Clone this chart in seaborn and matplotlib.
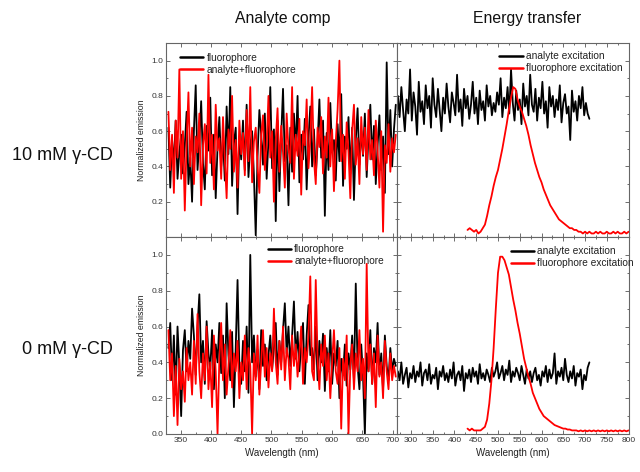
import numpy as np
import pandas as pd
import matplotlib
matplotlib.use("Agg")
import matplotlib.pyplot as plt
import seaborn as sns
from matplotlib.ticker import MultipleLocator

sns.set_theme(style="ticks")
plt.rcParams["font.family"] = ["Liberation Sans", "DejaVu Sans"]

# ---------------- data ----------------
# emission scans (nm)
wl_emission = np.arange(330, 706, 3)
# analyte excitation scans (nm)
wl_analyte_exc = np.arange(270, 711, 4)
# fluorophore excitation scans (nm)
wl_fluor_exc = np.arange(430, 801, 5)

em10_fluorophore = [
    0.62, 0.28, 0.55, 0.41, 0.66, 0.33, 0.48, 0.58, 0.36, 0.52, 0.71, 0.30, 0.45, 0.20,
    0.60, 0.86, 0.38, 0.54, 0.77, 0.42, 0.27, 0.63, 0.49, 0.79, 0.35, 0.58, 0.22, 0.51,
    0.68, 0.40, 0.56, 0.32, 0.74, 0.47, 0.85, 0.29, 0.53, 0.62, 0.13, 0.57, 0.44, 0.66,
    0.38, 0.75, 0.34, 0.52, 0.60, 0.35, 0.01, 0.46, 0.72, 0.58, 0.41, 0.70, 0.33, 0.55,
    0.85, 0.39, 0.61, 0.09, 0.66, 0.26, 0.57, 0.84, 0.43, 0.52, 0.18, 0.62, 0.37, 0.70,
    0.49, 0.80, 0.31, 0.58, 0.44, 0.67, 0.27, 0.56, 0.74, 0.40, 0.61, 0.35, 0.53, 0.78,
    0.45, 0.66, 0.12, 0.59, 0.38, 0.76, 0.48, 0.55, 0.32, 0.64, 0.43, 0.81, 0.29, 0.57,
    0.50, 0.68, 0.36, 0.62, 0.21, 0.55, 0.73, 0.41, 0.60, 0.46, 0.70, 0.34, 0.58, 0.75,
    0.44, 0.63, 0.30, 0.52, 0.69, 0.38, 0.57, 0.25, 0.99, 0.47, 0.72, 0.40, 0.61, 0.75,
]
em10_mix = [
    0.71, 0.38, 0.58, 0.25, 0.66, 0.45, 0.95, 0.33, 0.60, 0.15, 0.54, 0.82, 0.40, 0.62,
    0.30, 0.57, 0.48, 0.70, 0.18, 0.52, 0.64, 0.36, 0.92, 0.42, 0.58, 0.27, 0.75, 0.49,
    0.56, 0.33, 0.68, 0.44, 0.22, 0.61, 0.50, 0.80, 0.37, 0.55, 0.28, 0.66, 0.47, 0.59,
    0.35, 0.72, 0.43, 0.85, 0.31, 0.54, 0.62, 0.40, 0.25, 0.58, 0.69, 0.38, 0.52, 0.80,
    0.45, 0.60, 0.20, 0.55, 0.73, 0.37, 0.63, 0.48, 0.28, 0.70, 0.50, 0.42, 0.85, 0.33,
    0.58, 0.46, 0.67, 0.24, 0.60, 0.52, 0.78, 0.39, 0.55, 0.85, 0.44, 0.30, 0.62, 0.51,
    0.68, 0.36, 0.57, 0.45, 0.79, 0.40, 0.61, 0.26, 0.54, 0.72, 1.00, 0.43, 0.58, 0.33,
    0.65, 0.48, 0.22, 0.60, 0.75, 0.41, 0.56, 0.30, 0.68, 0.47, 0.62, 0.38, 0.72, 0.44,
    0.55, 0.35, 0.66, 0.49, 0.28, 0.60, 0.03, 0.52, 0.42, 0.64, 0.37, 0.56, 0.48, 0.58,
]
em0_fluorophore = [
    0.48, 0.62, 0.30, 0.55, 0.22, 0.60, 0.38, 0.10, 0.47, 0.58, 0.35, 0.52, 0.42, 0.70,
    0.55, 0.33, 0.60, 0.78, 0.40, 0.52, 0.28, 0.63, 0.45, 0.36, 0.58, 0.25, 0.50, 0.40,
    0.62, 0.34, 0.55, 0.20, 0.73, 0.44, 0.30, 0.57, 0.15, 0.48, 0.86, 0.38, 0.28, 0.52,
    0.35, 0.60, 0.23, 1.00, 0.40, 0.55, 0.32, 0.47, 0.25, 0.58, 0.38, 0.50, 0.30, 0.44,
    0.55, 0.36, 0.48, 0.62, 0.33, 0.52, 0.40, 0.58, 0.73, 0.45, 0.60, 0.38, 0.55, 0.74,
    0.42, 0.57, 0.35, 0.50, 0.62, 0.28, 0.55, 0.72, 0.44, 0.48, 0.36, 0.60, 0.30, 0.52,
    0.40, 0.56, 0.24, 0.48, 0.35, 0.58, 0.28, 0.45, 0.38, 0.52, 0.20, 0.42, 0.33, 0.50,
    0.27, 0.45, 0.36, 0.55, 0.30, 0.84, 0.38, 0.25, 0.50, 0.32, 0.00, 0.45, 0.35, 0.58,
    0.28, 0.48, 0.40, 0.62, 0.33, 0.45, 0.25, 0.55, 0.38, 0.30, 0.48, 0.35, 0.42, 0.38,
]
em0_mix = [
    0.58, 0.30, 0.45, 0.10, 0.38, 0.05, 0.42, 0.25, 0.35, 0.18, 0.48, 0.30, 0.40, 0.22,
    0.52, 0.28, 0.67, 0.35, 0.20, 0.45, 0.30, 0.60, 0.25, 0.40, 0.15, 0.55, 0.35, 0.00,
    0.42, 0.62, 0.30, 0.50, 0.22, 0.38, 0.58, 0.26, 0.45, 0.35, 0.52, 0.20, 0.40, 0.30,
    0.55, 0.25, 0.48, 0.38, 0.00, 0.45, 0.30, 0.55, 0.22, 0.40, 0.58, 0.32, 0.48, 0.26,
    0.45, 0.35, 0.70, 0.40, 0.28, 0.52, 0.36, 0.60, 0.30, 0.48, 0.42, 0.25, 0.55, 0.38,
    0.50, 0.32, 0.45, 0.60, 0.28, 0.48, 0.40, 0.55, 0.88, 0.35, 0.30, 0.86, 0.42, 0.25,
    0.50, 0.38, 0.55, 0.30, 0.45, 0.20, 0.40, 0.58, 0.35, 0.28, 0.48, 0.03, 0.42, 0.30,
    0.55, 0.00, 0.38, 0.50, 0.25, 0.45, 0.35, 0.58, 0.30, 0.42, 0.20, 0.95, 0.35, 0.50,
    0.28, 0.45, 0.15, 0.55, 0.32, 0.40, 0.20, 0.52, 0.35, 0.25, 0.45, 0.30, 0.38, 0.32,
]

exc10_analyte = [
    0.80, 0.68, 0.85, 0.72, 0.60, 0.78, 0.70, 0.95, 0.66, 0.82, 0.74, 0.58, 0.88, 0.71,
    0.77, 0.64, 0.86, 0.73, 0.80, 0.62, 0.90, 0.75, 0.68, 0.84, 0.72, 0.60, 0.79, 0.70,
    0.87, 0.74, 0.65, 0.82, 0.76, 0.69, 0.92, 0.71, 0.78, 0.63, 0.84, 0.73, 0.80, 0.67,
    0.75, 0.88, 0.70, 0.79, 0.64, 0.83, 0.72, 0.77, 0.66, 0.86, 0.74, 0.80, 0.69, 0.76,
    0.71, 0.82, 0.75, 0.90, 0.68, 0.79, 0.73, 0.85, 0.70, 0.95, 0.76, 0.66, 0.83, 0.72,
    0.78, 0.64, 0.87, 0.74, 0.80, 0.69, 0.92, 0.75, 0.71, 0.84, 0.66, 0.79, 0.73, 0.88,
    0.70, 0.77, 0.62, 0.85, 0.74, 0.80, 0.68, 0.78, 0.72, 0.86, 0.65, 0.76, 0.81, 0.70,
    0.74, 0.55, 0.83, 0.71, 0.77, 0.66, 0.80, 0.73, 0.85, 0.69, 0.76, 0.70, 0.67,
]
exc0_analyte = [
    0.35, 0.30, 0.40, 0.28, 0.33, 0.37, 0.26, 0.34, 0.31, 0.38, 0.29, 0.35, 0.32, 0.40,
    0.27, 0.34, 0.36, 0.30, 0.39, 0.28, 0.33, 0.31, 0.37, 0.25, 0.35, 0.32, 0.38, 0.30,
    0.34, 0.29, 0.36, 0.31, 0.40, 0.27, 0.33, 0.35, 0.30, 0.38, 0.24, 0.34, 0.31, 0.36,
    0.29, 0.37, 0.32, 0.35, 0.28, 0.39, 0.31, 0.34, 0.30, 0.36, 0.33, 0.29, 0.37, 0.32,
    0.35, 0.40, 0.31, 0.34, 0.38, 0.30, 0.36, 0.33, 0.41, 0.29, 0.35, 0.32, 0.37, 0.34,
    0.30, 0.38, 0.33, 0.28, 0.36, 0.31, 0.35, 0.29, 0.34, 0.37, 0.30, 0.33, 0.27, 0.35,
    0.32, 0.38, 0.29, 0.36, 0.31, 0.34, 0.45, 0.28, 0.35, 0.32, 0.37, 0.30, 0.42, 0.33,
    0.29, 0.35, 0.31, 0.38, 0.27, 0.34, 0.32, 0.36, 0.25, 0.33, 0.30, 0.37, 0.40,
]
exc10_fluorophore = [
    0.04, 0.05, 0.04, 0.03, 0.04, 0.02, 0.03, 0.05, 0.07, 0.12, 0.18, 0.23, 0.29, 0.34, 0.38,
    0.44, 0.50, 0.57, 0.64, 0.72, 0.79, 0.85, 0.84, 0.78, 0.74, 0.71, 0.67, 0.63, 0.58, 0.52,
    0.47, 0.42, 0.38, 0.34, 0.31, 0.27, 0.24, 0.21, 0.18, 0.16, 0.14, 0.12, 0.10, 0.09, 0.08,
    0.07, 0.06, 0.05, 0.05, 0.04, 0.04, 0.03, 0.03, 0.02, 0.03, 0.02, 0.03, 0.02, 0.02, 0.03,
    0.02, 0.03, 0.02, 0.02, 0.03, 0.02, 0.02, 0.03, 0.02, 0.03, 0.02, 0.02, 0.03, 0.02, 0.03,
]
exc0_fluorophore = [
    0.03, 0.02, 0.03, 0.02, 0.02, 0.02, 0.02, 0.03, 0.04, 0.08, 0.17, 0.30, 0.48, 0.70, 0.90,
    0.99, 0.99, 0.97, 0.93, 0.89, 0.82, 0.75, 0.69, 0.62, 0.56, 0.49, 0.42, 0.37, 0.32, 0.28,
    0.23, 0.20, 0.17, 0.14, 0.12, 0.10, 0.09, 0.08, 0.07, 0.06, 0.05, 0.045, 0.04, 0.035, 0.03,
    0.03, 0.025, 0.025, 0.02, 0.02, 0.02, 0.015, 0.02, 0.015, 0.02, 0.015, 0.02, 0.015, 0.02, 0.015,
    0.02, 0.015, 0.02, 0.015, 0.02, 0.015, 0.02, 0.015, 0.02, 0.015, 0.02, 0.015, 0.02, 0.015, 0.02,
]

col_titles = ["Analyte comp", "Energy transfer"]
row_titles = ["10 mM \u03b3-CD", "0 mM \u03b3-CD"]
emission_labels = ["fluorophore", "analyte+fluorophore"]
excitation_labels = ["analyte excitation", "fluorophore excitation"]

# ---------------- figure ----------------
W, H = 640, 472
fig = plt.figure(figsize=(W / 100, H / 100), dpi=100)


def rect(x0, y0, x1, y1):
    return [x0 / W, 1 - y1 / H, (x1 - x0) / W, (y1 - y0) / H]


axes = [
    [fig.add_axes(rect(166, 43, 397, 237)), fig.add_axes(rect(397, 43, 629, 237))],
    [fig.add_axes(rect(166, 237, 397, 434)), fig.add_axes(rect(397, 237, 629, 434))],
]

BLACK, RED = "#000000", "#ff0000"


def draw(ax, x, y, color, label):
    df = pd.DataFrame({"wl": x, "val": y})
    sns.lineplot(data=df, x="wl", y="val", ax=ax, color=color, lw=1.3,
                 label=label, sort=False, estimator=None, legend=False)


panels = [
    (em10_fluorophore, em10_mix, exc10_analyte, exc10_fluorophore),
    (em0_fluorophore, em0_mix, exc0_analyte, exc0_fluorophore),
]
legend_anchor = [[(0.03, 0.985), (0.41, 0.995)], [(0.41, 1.0), (0.46, 0.99)]]

for r, (ef, em, ea, ex) in enumerate(panels):
    axl, axr = axes[r]
    draw(axl, wl_emission, ef, BLACK, emission_labels[0])
    draw(axl, wl_emission, em, RED, emission_labels[1])
    draw(axr, wl_analyte_exc, ea, BLACK, excitation_labels[0])
    draw(axr, wl_fluor_exc, ex, RED, excitation_labels[1])

    for c, ax in enumerate((axl, axr)):
        ax.set_facecolor("white")
        ax.set_ylim(0, 1.1)
        if c == 0:
            ax.set_xlim(326, 707)
        else:
            ax.set_xlim(268, 801)
        ax.xaxis.set_major_locator(MultipleLocator(50))
        ax.xaxis.set_minor_locator(MultipleLocator(25))
        ax.yaxis.set_major_locator(MultipleLocator(0.2))
        ax.yaxis.set_minor_locator(MultipleLocator(0.1))
        ax.tick_params(which="both", direction="in", top=True, right=True,
                       colors="#555555", labelcolor="#333333", labelsize=6, width=0.6)
        ax.tick_params(which="major", length=3, pad=2)
        ax.tick_params(which="minor", length=1.5)
        for s in ax.spines.values():
            s.set_color("#666666")
            s.set_linewidth(0.8)
        ax.set_xlabel("")
        ax.set_ylabel("")
        if r == 0:
            ax.tick_params(labelbottom=False)
        else:
            ax.set_xlabel("Wavelength (nm)", fontsize=7, color="#222222", labelpad=3)
        if c == 1:
            ax.tick_params(labelleft=False)
        else:
            ax.set_ylabel("Normalized emission", fontsize=6.3, color="#222222", labelpad=4)
            if r == 0:
                ax.set_yticks([0.0, 0.2, 0.4, 0.6, 0.8, 1.0])
                ax.set_yticklabels(["", "0.2", "0.4", "0.6", "0.8", "1.0"])
        leg = ax.legend(loc="upper left", bbox_to_anchor=legend_anchor[r][c],
                        frameon=False, fontsize=7.3, handlelength=2.3,
                        handletextpad=0.3, labelspacing=0.2, borderaxespad=0.3)
        for line in leg.get_lines():
            line.set_linewidth(1.8)
        for t in leg.get_texts():
            t.set_color("#222222")

for c, title in enumerate(col_titles):
    fig.text([283 / W, 527 / W][c], 1 - 19 / H, title, ha="center", va="center",
             fontsize=11.3, color="#111111")
for r, title in enumerate(row_titles):
    fig.text(113 / W, 1 - [156, 350][r] / H, title, ha="right", va="center",
             fontsize=13, color="#111111")

fig.savefig("out.png", dpi=100)
